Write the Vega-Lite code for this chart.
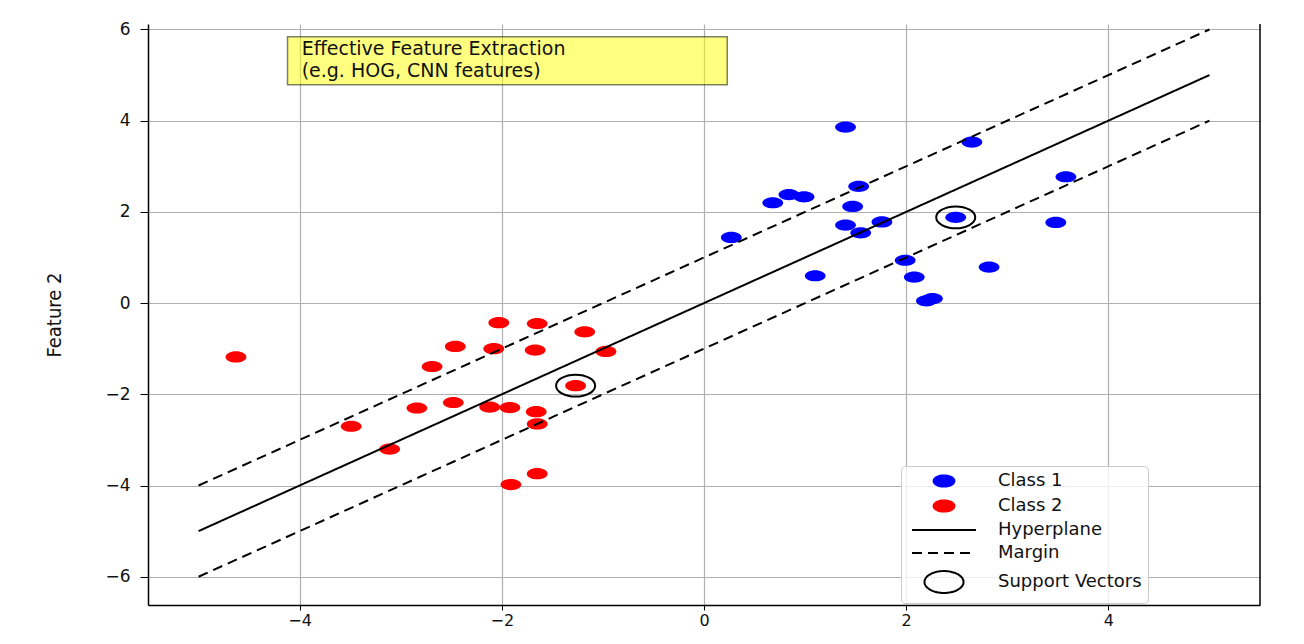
{
  "$schema": "https://vega.github.io/schema/vega-lite/v6.json",
  "width": 1112,
  "height": 581,
  "autosize": {"type": "none"},
  "padding": {"left": 148, "top": 24, "right": 44, "bottom": 39},
  "background": "white",
  "datasets": {
    "points": [
      {"x": 1.40, "y": 3.86, "label": "Class 1"},
      {"x": 2.65, "y": 3.53, "label": "Class 1"},
      {"x": 3.58, "y": 2.77, "label": "Class 1"},
      {"x": 1.53, "y": 2.56, "label": "Class 1"},
      {"x": 0.84, "y": 2.38, "label": "Class 1"},
      {"x": 0.99, "y": 2.33, "label": "Class 1"},
      {"x": 0.68, "y": 2.20, "label": "Class 1"},
      {"x": 1.47, "y": 2.12, "label": "Class 1"},
      {"x": 2.49, "y": 1.88, "label": "Class 1"},
      {"x": 1.40, "y": 1.71, "label": "Class 1"},
      {"x": 1.76, "y": 1.78, "label": "Class 1"},
      {"x": 3.48, "y": 1.77, "label": "Class 1"},
      {"x": 1.55, "y": 1.54, "label": "Class 1"},
      {"x": 0.27, "y": 1.44, "label": "Class 1"},
      {"x": 1.99, "y": 0.94, "label": "Class 1"},
      {"x": 2.82, "y": 0.79, "label": "Class 1"},
      {"x": 1.10, "y": 0.60, "label": "Class 1"},
      {"x": 2.08, "y": 0.57, "label": "Class 1"},
      {"x": 2.26, "y": 0.10, "label": "Class 1"},
      {"x": 2.20, "y": 0.05, "label": "Class 1"},
      {"x": -4.63, "y": -1.18, "label": "Class 2"},
      {"x": -2.03, "y": -0.43, "label": "Class 2"},
      {"x": -1.65, "y": -0.45, "label": "Class 2"},
      {"x": -1.18, "y": -0.63, "label": "Class 2"},
      {"x": -2.46, "y": -0.95, "label": "Class 2"},
      {"x": -2.08, "y": -1.00, "label": "Class 2"},
      {"x": -1.67, "y": -1.03, "label": "Class 2"},
      {"x": -0.97, "y": -1.06, "label": "Class 2"},
      {"x": -2.69, "y": -1.39, "label": "Class 2"},
      {"x": -1.27, "y": -1.81, "label": "Class 2"},
      {"x": -2.84, "y": -2.30, "label": "Class 2"},
      {"x": -2.48, "y": -2.18, "label": "Class 2"},
      {"x": -2.12, "y": -2.28, "label": "Class 2"},
      {"x": -1.92, "y": -2.29, "label": "Class 2"},
      {"x": -1.66, "y": -2.38, "label": "Class 2"},
      {"x": -1.65, "y": -2.65, "label": "Class 2"},
      {"x": -3.49, "y": -2.70, "label": "Class 2"},
      {"x": -3.11, "y": -3.20, "label": "Class 2"},
      {"x": -1.65, "y": -3.74, "label": "Class 2"},
      {"x": -1.91, "y": -3.98, "label": "Class 2"}
    ],
    "lines": [
      {"label": "Hyperplane", "side": "center", "x": -5, "y": -5},
      {"label": "Hyperplane", "side": "center", "x": 5, "y": 5},
      {"label": "Margin", "side": "upper", "x": -5, "y": -4},
      {"label": "Margin", "side": "upper", "x": 5, "y": 6},
      {"label": "Margin", "side": "lower", "x": -5, "y": -6},
      {"label": "Margin", "side": "lower", "x": 5, "y": 4}
    ],
    "sv": [
      {"x": 2.49, "y": 1.88, "label": "Support Vectors"},
      {"x": -1.27, "y": -1.81, "label": "Support Vectors"}
    ]
  },
  "layer": [
    {
      "data": {"name": "points"},
      "mark": {"type": "point", "filled": true, "opacity": 1, "size": 256, "strokeWidth": 0},
      "encoding": {
        "x": {"field": "x", "type": "quantitative", "scale": {"domain": [-5.5, 5.5], "nice": false, "zero": false},
              "axis": {"title": null, "values": [-4, -2, 0, 2, 4], "format": "d", "tickSize": 5, "labelPadding": 2, "labelFontSize": 16}},
        "y": {"field": "y", "type": "quantitative", "scale": {"domain": [-6.62, 6.12], "nice": false, "zero": false},
              "axis": {"title": "Feature 2", "values": [-6, -4, -2, 0, 2, 4, 6], "format": "d", "tickSize": 8, "labelPadding": 10, "labelFontSize": 17,
                       "titleFont": "DejaVu Sans Condensed, Liberation Sans Narrow, Roboto Condensed, Roboto, sans-serif", "titleFontSize": 20, "titleFontWeight": "normal", "titleColor": "#111", "titlePadding": 40}},
        "fill": {"field": "label", "type": "nominal",
                 "scale": {"domain": ["Class 1", "Class 2", "Hyperplane", "Margin", "Support Vectors"], "range": ["#0000ff", "#ff0000", "transparent", "transparent", "transparent"]},
                 "legend": {"title": null, "orient": "none", "legendX": 753, "legendY": 442}},
        "shape": {"field": "label", "type": "nominal",
                  "scale": {"domain": ["Class 1", "Class 2", "Hyperplane", "Margin", "Support Vectors"],
                            "range": ["M -1.3 0 A 1.3 0.7 0 1 1 1.3 0 A 1.3 0.7 0 1 1 -1.3 0 Z", "M -1.3 0 A 1.3 0.7 0 1 1 1.3 0 A 1.3 0.7 0 1 1 -1.3 0 Z", "M -4 0 L 4 0", "M -4 0 L 4 0", "M -2.44 0 A 2.44 1.37 0 1 1 2.44 0 A 2.44 1.37 0 1 1 -2.44 0 Z"]},
                  "legend": {"title": null}}
      }
    },
    {
      "data": {"name": "lines"},
      "mark": {"type": "line", "strokeWidth": 2},
      "encoding": {
        "x": {"field": "x", "type": "quantitative"},
        "y": {"field": "y", "type": "quantitative"},
        "stroke": {"field": "label", "type": "nominal",
                   "scale": {"domain": ["Class 1", "Class 2", "Hyperplane", "Margin", "Support Vectors"], "range": ["#0000ff", "#ff0000", "#000000", "#000000", "#000000"]},
                   "legend": {"title": null}},
        "detail": {"field": "side", "type": "nominal"},
        "strokeDash": {"field": "label", "type": "nominal",
                       "scale": {"domain": ["Class 1", "Class 2", "Hyperplane", "Margin", "Support Vectors"], "range": [[1, 0], [1, 0], [1, 0], [10, 6], [1, 0]]},
                       "legend": {"title": null}}
      }
    },
    {
      "data": {"name": "sv"},
      "mark": {"type": "point", "filled": false, "opacity": 1, "size": 256, "strokeWidth": 2},
      "encoding": {
        "x": {"field": "x", "type": "quantitative"},
        "y": {"field": "y", "type": "quantitative"},
        "stroke": {"field": "label", "type": "nominal", "legend": {"title": null}},
        "shape": {"field": "label", "type": "nominal", "legend": {"title": null}}
      }
    },
    {
      "data": {"values": [{}]},
      "mark": {"type": "rect", "fill": "#ffff00", "fillOpacity": 0.5, "stroke": "#000000", "strokeOpacity": 0.5, "strokeWidth": 1.5},
      "encoding": {
        "x": {"datum": -4.12}, "x2": {"datum": 0.23},
        "y": {"datum": 5.84}, "y2": {"datum": 4.79}
      }
    },
    {
      "data": {"values": [{}]},
      "mark": {"type": "text", "text": ["Effective Feature Extraction", "(e.g. HOG, CNN features)"], "align": "left", "baseline": "top",
               "font": "DejaVu Sans", "fontSize": 19, "lineHeight": 22, "color": "#111111"},
      "encoding": {
        "x": {"datum": -3.98},
        "y": {"datum": 5.77}
      }
    },
    {
      "data": {"values": [{}]},
      "mark": {"type": "rule", "color": "#000000", "strokeWidth": 1.5},
      "encoding": {"x": {"datum": 5.5}}
    }
  ],
  "config": {
    "view": {"stroke": null},
    "legend": {
      "padding": 6, "rowPadding": 5, "symbolOffset": 28, "labelOffset": 45,
      "symbolSize": 256, "symbolStrokeWidth": 2, "symbolOpacity": 1,
      "labelFont": "DejaVu Sans", "labelFontSize": 18, "labelColor": "#111", "labelLimit": 400,
      "fillColor": "rgba(255,255,255,0.8)", "strokeColor": "#cccccc", "cornerRadius": 4
    },
    "axis": {
      "labelFont": "DejaVu Sans",
      "labelColor": "#111111",
      "tickColor": "#000000",
      "tickWidth": 1,
      "domainColor": "#000000",
      "domainWidth": 1.5,
      "grid": true,
      "gridColor": "#b0b0b0",
      "gridWidth": 1.2,
      "gridOpacity": 1
    }
  }
}
